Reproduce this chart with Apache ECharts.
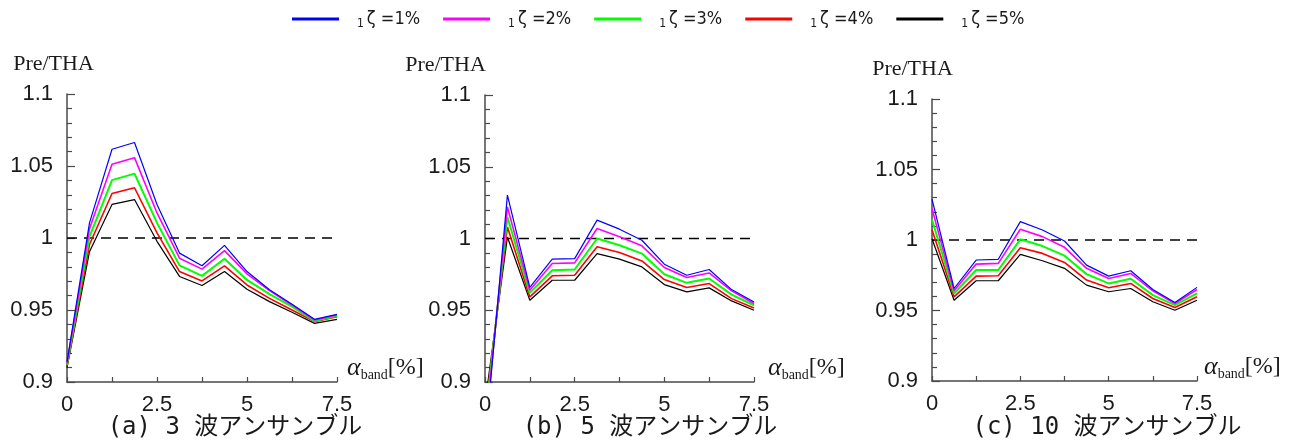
<!DOCTYPE html>
<html>
<head>
<meta charset="utf-8">
<script src="https://cdn.jsdelivr.net/npm/echarts@6/dist/echarts.min.js"></script>
<style>
html,body{margin:0;padding:0;background:#fff;}
#chart{width:1290px;height:443px;}
</style>
</head>
<body>
<div id="chart"></div>
<script>
// ---- data ----
const xValues = [0, 0.625, 1.25, 1.875, 2.5, 3.125, 3.75, 4.375, 5, 5.625, 6.25, 6.875, 7.5];
const seriesNames = ['ζ =1%', 'ζ =2%', 'ζ =3%', 'ζ =4%', 'ζ =5%'];
const panelTitles = ['(a) 3 波アンサンブル', '(b) 5 波アンサンブル', '(c) 10 波アンサンブル'];
const yTickLabels = ['0.9', '0.95', '1', '1.05', '1.1'];
const xTickLabels = ['0', '2.5', '5', '7.5'];
const refValue = 1;

// panel (a) 3-wave ensemble
const a1 = [0.914, 1.0105, 1.0616, 1.0663, 1.0233, 0.9895, 0.9807, 0.9949, 0.9767, 0.9640, 0.9540, 0.9435, 0.9470];
const a2 = [0.913, 1.0065, 1.0512, 1.0558, 1.0174, 0.9860, 0.9784, 0.9912, 0.9751, 0.9635, 0.9535, 0.9430, 0.9465];
const a3 = [0.912, 1.0010, 1.0402, 1.0447, 1.0105, 0.9810, 0.9737, 0.9856, 0.9709, 0.9610, 0.9523, 0.9423, 0.9458];
const a4 = [0.911, 0.9955, 1.0309, 1.0349, 1.0035, 0.9767, 0.9702, 0.9807, 0.9674, 0.9581, 0.9500, 0.9419, 0.9453];
const a5 = [0.910, 0.9905, 1.0233, 1.0267, 0.9977, 0.9733, 0.9670, 0.9767, 0.9644, 0.9558, 0.9484, 0.9407, 0.9435];
// panel (b) 5-wave ensemble
const b1 = [0.857, 1.0302, 0.9660, 0.9856, 0.9860, 1.0128, 1.0065, 0.9988, 0.9821, 0.9744, 0.9784, 0.9644, 0.9558];
const b2 = [0.865, 1.0220, 0.9640, 0.9826, 0.9830, 1.0070, 1.0012, 0.9949, 0.9798, 0.9728, 0.9760, 0.9635, 0.9547];
const b3 = [0.872, 1.0150, 0.9621, 0.9779, 0.9784, 1.0000, 0.9953, 0.9895, 0.9751, 0.9691, 0.9721, 0.9609, 0.9535];
const b4 = [0.878, 1.0080, 0.9593, 0.9740, 0.9744, 0.9942, 0.9902, 0.9844, 0.9714, 0.9658, 0.9686, 0.9581, 0.9516];
const b5 = [0.885, 1.0010, 0.9570, 0.9709, 0.9709, 0.9895, 0.9856, 0.9802, 0.9679, 0.9628, 0.9656, 0.9565, 0.9500];
// panel (c) 10-wave ensemble
const c1 = [1.0290, 0.9656, 0.9858, 0.9863, 1.0130, 1.0071, 0.9993, 0.9822, 0.9744, 0.9782, 0.9649, 0.9557, 0.9664];
const c2 = [1.0223, 0.9640, 0.9829, 0.9834, 1.0076, 1.0024, 0.9948, 0.9799, 0.9727, 0.9763, 0.9640, 0.9550, 0.9649];
const c3 = [1.0145, 0.9621, 0.9787, 0.9787, 1.0005, 0.9957, 0.9889, 0.9758, 0.9692, 0.9725, 0.9609, 0.9538, 0.9621];
const c4 = [1.0073, 0.9597, 0.9744, 0.9746, 0.9945, 0.9905, 0.9841, 0.9716, 0.9661, 0.9692, 0.9585, 0.9521, 0.9597];
const c5 = [1.0009, 0.9573, 0.9711, 0.9711, 0.9898, 0.9853, 0.9799, 0.9680, 0.9633, 0.9656, 0.9562, 0.9502, 0.9573];

const panels = [[a1, a2, a3, a4, a5], [b1, b2, b3, b4, b5], [c1, c2, c3, c4, c5]];

// ---- styles ----
const colors = ['#0000ff', '#ff00ff', '#00ff00', '#ff0000', '#000000'];
const widths = [1.2, 1.6, 2.0, 1.6, 1.2];
const grids = [
  {left: 67, top: 94, width: 270, height: 288},
  {left: 485, top: 95, width: 269, height: 287},
  {left: 932, top: 99, width: 265, height: 282}
];
const yNamePad = [27, 79, 39];
const xNameGap = [10, 14, 7];
const titleCenters = [235, 650, 1107];
const axisColor = '#4a4a4a';
const condensed = '"DejaVu Sans Condensed", "Liberation Sans Narrow", "Liberation Sans", sans-serif';

const chart = echarts.init(document.getElementById('chart'), null, {renderer: 'canvas'});

const xAxes = grids.map((g, i) => ({
  type: 'value', gridIndex: i, min: 0, max: 7.5, interval: 1.25,
  axisLine: {show: true, onZero: false, lineStyle: {color: axisColor, width: 1.5}},
  axisTick: {show: true, inside: true, length: 5, lineStyle: {color: axisColor, width: 1.2}},
  splitLine: {show: false},
  axisLabel: {
    margin: 12, fontFamily: 'Liberation Sans', fontSize: 22, color: '#1a1a1a',
    formatter: v => { const s = String(+v.toFixed(3)); return xTickLabels.includes(s) ? s : ''; }
  },
  name: '{a|α}{s|band}{b|[%]}',
  nameLocation: 'end', nameGap: xNameGap[i],
  nameTextStyle: {
    padding: [0, 0, 28, 0],
    rich: {
      a: {fontFamily: 'Liberation Serif', fontStyle: 'italic', fontSize: 26, color: '#1a1a1a'},
      s: {fontFamily: 'Liberation Serif', fontSize: 14, color: '#1a1a1a', padding: [14, 0, 0, 0]},
      b: {fontFamily: 'Liberation Serif', fontSize: 24, color: '#1a1a1a'}
    }
  }
}));

const yAxes = grids.map((g, i) => ({
  type: 'value', gridIndex: i, min: 0.9, max: 1.1, interval: 0.05,
  axisLine: {show: true, lineStyle: {color: axisColor, width: 1.5}},
  axisTick: {show: true, inside: true, length: 8, lineStyle: {color: axisColor, width: 1.2}},
  minorTick: {show: true, splitNumber: 5, length: 5, lineStyle: {color: axisColor, width: 1.2}},
  splitLine: {show: false},
  axisLabel: {
    margin: 14, fontFamily: 'Liberation Sans', fontSize: 22, color: '#1a1a1a',
    padding: [0, 0, 10, 0],
    formatter: v => { const s = String(+v.toFixed(3)); return yTickLabels.includes(s) ? s : ''; }
  },
  name: 'Pre/THA', nameLocation: 'end', nameGap: 19,
  nameTextStyle: {fontFamily: 'Liberation Serif', fontSize: 22, color: '#1a1a1a', align: 'center', padding: [0, yNamePad[i], 0, 0]}
}));

const series = [];
panels.forEach((lines, p) => {
  series.push({
    type: 'line', name: 'ref', xAxisIndex: p, yAxisIndex: p, silent: true, symbol: 'none', z: 1,
    data: [[xValues[0], refValue], [xValues[xValues.length - 1], refValue]],
    lineStyle: {color: '#000', width: 1.3, type: [10, 7]}
  });
  lines.forEach((vals, k) => {
    series.push({
      type: 'line', name: seriesNames[k], xAxisIndex: p, yAxisIndex: p,
      symbol: 'none', showSymbol: false, clip: true, z: 2 + (4 - k),
      data: vals.map((v, j) => [xValues[j], v]),
      lineStyle: {color: colors[k], width: widths[k]},
      itemStyle: {color: colors[k]}
    });
  });
});

const option = {
  animation: false,
  backgroundColor: '#fff',
  color: colors,
  legend: {
    data: seriesNames, top: 10, left: 292, padding: 0,
    icon: 'rect', itemWidth: 47, itemHeight: 3, itemGap: 23,
    formatter: n => '{s|1}{m|' + n + '}',
    textStyle: {
      color: '#1a1a1a',
      rich: {
        s: {fontFamily: condensed, fontSize: 12, padding: [10, 3, 0, 13], color: '#1a1a1a'},
        m: {fontFamily: condensed, fontSize: 18, color: '#1a1a1a'}
      }
    }
  },
  title: panelTitles.map((t, i) => ({
    text: t, left: titleCenters[i], top: 416, textAlign: 'center', padding: 0,
    textStyle: {fontFamily: '"DejaVu Sans Mono", "Noto Sans CJK JP"', fontSize: 24, fontWeight: 'normal', color: '#1a1a1a'}
  })),
  grid: grids,
  xAxis: xAxes,
  yAxis: yAxes,
  series: series
};
chart.setOption(option);
</script>
</body>
</html>
